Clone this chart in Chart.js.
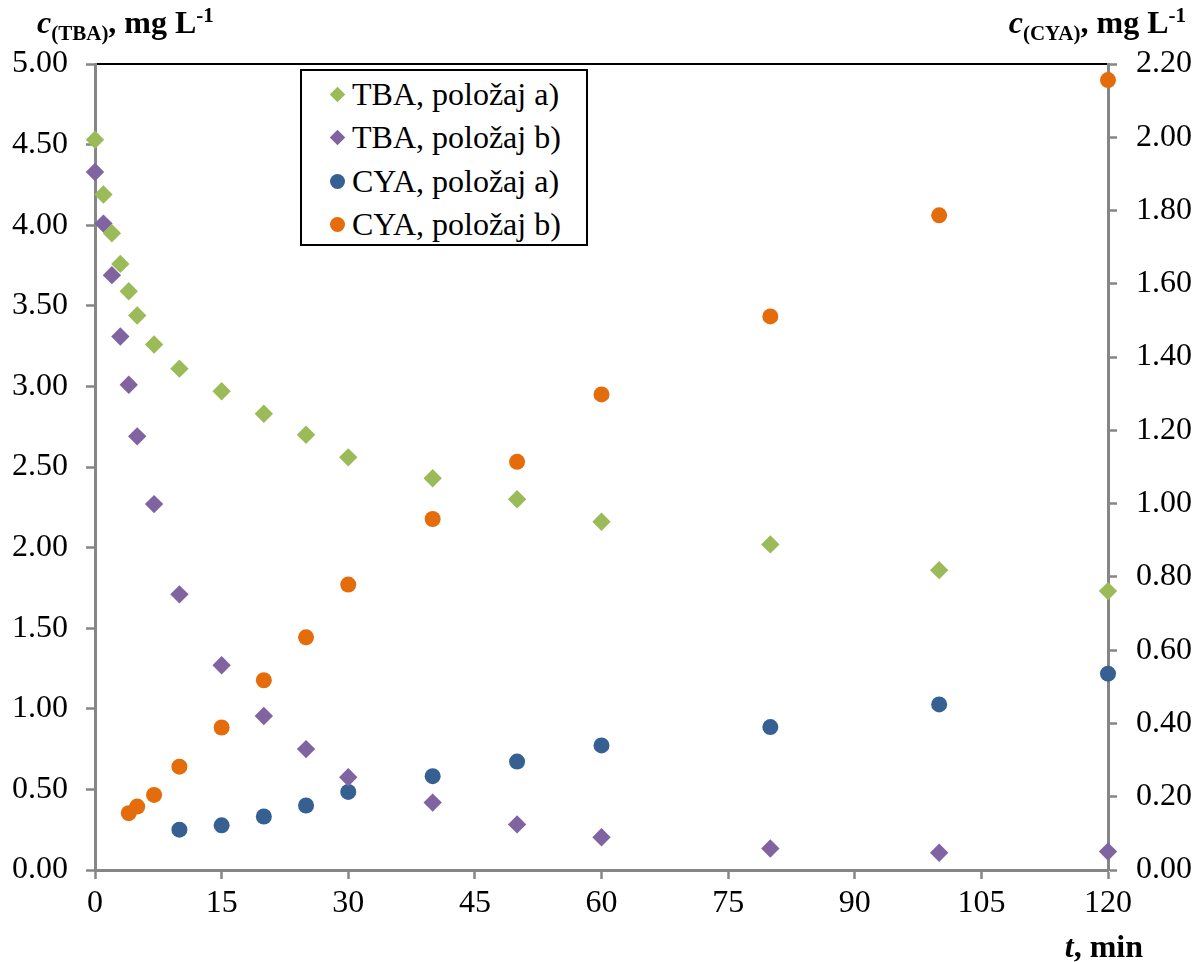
<!DOCTYPE html>
<html lang="hr">
<head>
    <meta charset="UTF-8">
    <title>TBA i CYA, položaj a) i b)</title>
    <style>
        body {
            margin: 0;
            background-color: #fff;
        }
        .wrap {
            position: relative;
            width: 1204px;
            height: 962px;
        }
        canvas {
            display: block;
        }
        .legend {
            position: absolute;
            left: 300px;
            top: 69px;
            width: 284px;
            height: 173px;
            border: 2px solid #000;
            background-color: #fff;
            font-family: "Liberation Serif", "Times New Roman", serif;
            font-size: 32px;
            color: #000;
        }
        .legend .row {
            position: absolute;
            left: 0;
            width: 284px;
            height: 43px;
            line-height: 43px;
            white-space: nowrap;
        }
        .legend .txt {
            position: absolute;
            left: 50px;
        }
        .legend .mk {
            position: absolute;
        }
    </style>
</head>
<body>
    <div class="wrap">
        <canvas id="chart" width="1204" height="962"></canvas>
        <div class="legend" id="legend"></div>
    </div>

    <script src="https://cdn.jsdelivr.net/npm/chart.js"></script>

    <script>
        // vrijeme uzorkovanja, min
        const timeTBA = [0, 1, 2, 3, 4, 5, 7, 10, 15, 20, 25, 30, 40, 50, 60, 80, 100, 120];
        const tbaA = [4.53, 4.19, 3.95, 3.76, 3.59, 3.44, 3.26, 3.11, 2.97, 2.83, 2.70, 2.56, 2.43, 2.30, 2.16, 2.02, 1.86, 1.73];
        const tbaB = [4.33, 4.01, 3.69, 3.31, 3.01, 2.69, 2.27, 1.71, 1.27, 0.955, 0.75, 0.575, 0.418, 0.283, 0.203, 0.133, 0.107, 0.114];

        const timeCYA_A = [10, 15, 20, 25, 30, 40, 50, 60, 80, 100, 120];
        const cyaA = [0.110, 0.122, 0.146, 0.176, 0.213, 0.256, 0.296, 0.340, 0.390, 0.452, 0.536];
        const timeCYA_B = [4, 5, 7, 10, 15, 20, 25, 30, 40, 50, 60, 80, 100, 120];
        const cyaB = [0.155, 0.173, 0.205, 0.282, 0.389, 0.518, 0.635, 0.779, 0.958, 1.114, 1.298, 1.511, 1.787, 2.156];

        const seriesLabels = ['TBA, položaj a)', 'TBA, položaj b)', 'CYA, položaj a)', 'CYA, položaj b)'];
        const seriesColors = ['#9BBB59', '#8064A2', '#376092', '#E46C0A'];
        const seriesStyles = ['rectRot', 'rectRot', 'circle', 'circle'];

        const FONT = '"Liberation Serif", "Times New Roman", serif';
        const axisGrey = '#868686';

        const toPoints = (xs, ys) => xs.map((x, i) => ({ x: x, y: ys[i] }));

        const makeSet = (i, xs, ys, axis) => {
            const r = seriesStyles[i] === 'circle' ? 8 : 9.2;
            return {
                label: seriesLabels[i],
                data: toPoints(xs, ys),
                yAxisID: axis,
                pointStyle: seriesStyles[i],
                pointRadius: r,
                pointHoverRadius: r,
                backgroundColor: seriesColors[i],
                borderColor: seriesColors[i],
                pointBorderWidth: 0,
                showLine: false,
                clip: false
            };
        };

        // tekst s indeksom / eksponentom (c(TBA), mg L-1)
        function richWidth(ctx, parts) {
            let w = 0;
            parts.forEach(p => { ctx.font = p.f; w += ctx.measureText(p.t).width; });
            return w;
        }
        function drawRich(ctx, x, y, parts) {
            parts.forEach(p => {
                ctx.font = p.f;
                ctx.fillText(p.t, x, y + (p.dy || 0));
                x += ctx.measureText(p.t).width;
            });
        }

        const titleParts = sub => [
            { t: 'c', f: 'italic bold 32px ' + FONT },
            { t: '(' + sub + ')', f: 'bold 21px ' + FONT, dy: 7 },
            { t: ', mg L', f: 'bold 32px ' + FONT },
            { t: '-1', f: 'bold 21px ' + FONT, dy: -11 }
        ];

        const axisTitles = {
            id: 'axisTitles',
            beforeDraw(chart) {
                const a = chart.chartArea;
                const ctx = chart.ctx;
                ctx.save();
                ctx.strokeStyle = '#000';
                ctx.lineWidth = 2;
                ctx.strokeRect(a.left, a.top, a.right - a.left, a.bottom - a.top);
                ctx.restore();
            },
            afterDraw(chart) {
                const a = chart.chartArea;
                const ctx = chart.ctx;
                ctx.save();
                ctx.fillStyle = '#000';
                ctx.textBaseline = 'alphabetic';
                ctx.textAlign = 'left';
                drawRich(ctx, 37, a.top - 31, titleParts('TBA'));
                const right = titleParts('CYA');
                drawRich(ctx, 1186 - richWidth(ctx, right), a.top - 31, right);
                const xt = [
                    { t: 't', f: 'italic bold 32px ' + FONT },
                    { t: ', min', f: 'bold 32px ' + FONT }
                ];
                drawRich(ctx, 1143 - richWidth(ctx, xt), a.bottom + 87, xt);
                ctx.restore();
            }
        };

        const tickFont = { family: FONT, size: 32 };
        const gridOpts = {
            display: true,
            drawOnChartArea: false,
            drawTicks: true,
            tickLength: 9,
            tickWidth: 2.5,
            tickColor: axisGrey,
            color: axisGrey
        };
        const borderOpts = { display: true, color: axisGrey, width: 3 };

        new Chart(document.getElementById('chart').getContext('2d'), {
            type: 'scatter',
            data: {
                datasets: [
                    makeSet(0, timeTBA, tbaA, 'y'),
                    makeSet(1, timeTBA, tbaB, 'y'),
                    makeSet(2, timeCYA_A, cyaA, 'y1'),
                    makeSet(3, timeCYA_B, cyaB, 'y1')
                ]
            },
            options: {
                responsive: false,
                animation: false,
                clip: false,
                layout: { padding: { top: 64, left: 0, right: 0, bottom: 0 } },
                plugins: {
                    legend: { display: false },
                    tooltip: { enabled: false }
                },
                scales: {
                    x: {
                        type: 'linear',
                        min: 0,
                        max: 120,
                        ticks: { stepSize: 15, font: tickFont, color: '#000', padding: 5, maxRotation: 0 },
                        grid: gridOpts,
                        border: borderOpts,
                        afterFit: s => { s.height = 92; }
                    },
                    y: {
                        position: 'left',
                        min: 0,
                        max: 5,
                        ticks: { stepSize: 0.5, font: tickFont, color: '#000', padding: 18,
                                 callback: v => v.toFixed(2) },
                        grid: gridOpts,
                        border: borderOpts,
                        afterFit: s => { s.width = 95; }
                    },
                    y1: {
                        position: 'right',
                        min: 0,
                        max: 2.2,
                        ticks: { stepSize: 0.2, font: tickFont, color: '#000', padding: 19,
                                 callback: v => v.toFixed(2) },
                        grid: gridOpts,
                        border: borderOpts,
                        afterFit: s => { s.width = 96; }
                    }
                }
            },
            plugins: [axisTitles]
        });

        // legenda unutar grafa
        const legend = document.getElementById('legend');
        seriesLabels.forEach((label, i) => {
            const row = document.createElement('div');
            row.className = 'row';
            row.style.top = (2 + i * 43.3) + 'px';
            const mk = document.createElement('div');
            mk.className = 'mk';
            if (seriesStyles[i] === 'circle') {
                mk.style.cssText = 'left:28px;top:14px;width:15px;height:15px;border-radius:50%;background:' + seriesColors[i];
            } else {
                mk.style.cssText = 'left:30px;top:16px;width:11px;height:11px;transform:rotate(45deg);background:' + seriesColors[i];
            }
            const txt = document.createElement('span');
            txt.className = 'txt';
            txt.textContent = label;
            row.appendChild(mk);
            row.appendChild(txt);
            legend.appendChild(row);
        });
    </script>
</body>
</html>
